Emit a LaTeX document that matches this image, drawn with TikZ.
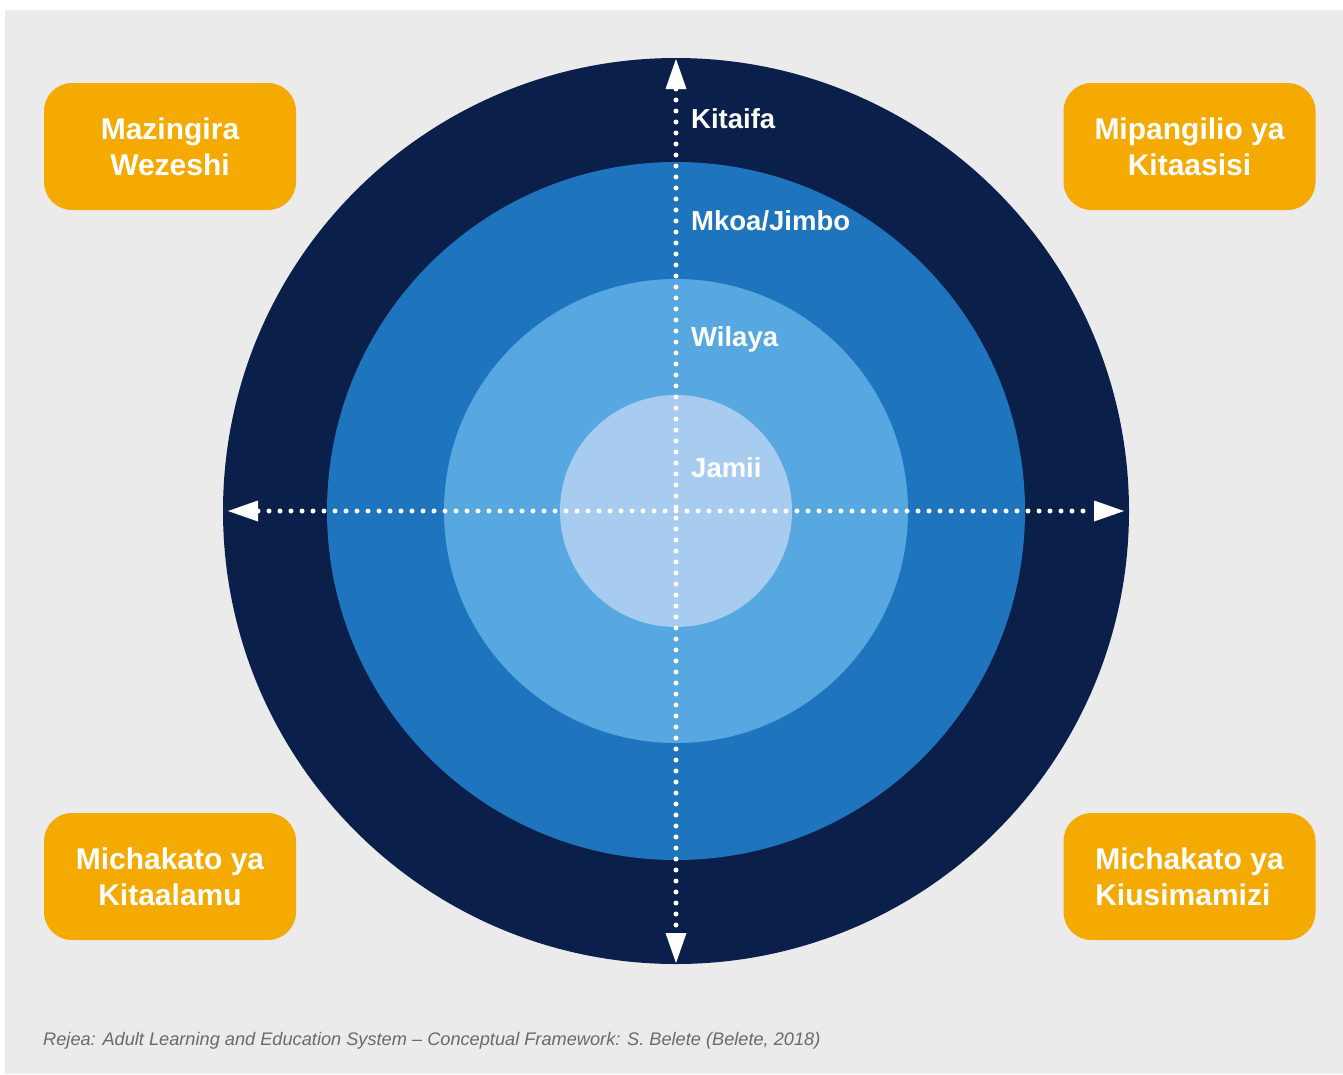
\documentclass[tikz,border=0pt]{standalone}
\usepackage{fontspec}
\setmainfont{Liberation Sans}
\usetikzlibrary{arrows.meta}
\definecolor{bggray}{HTML}{EBEBEB}
\definecolor{navy}{HTML}{0A1F4A}
\definecolor{midblue}{HTML}{1E74BD}
\definecolor{lightblue}{HTML}{57A8E0}
\definecolor{paleblue}{HTML}{A8CCF0}
\definecolor{boxorange}{HTML}{F4AA00}
\definecolor{footgray}{HTML}{6A6A6A}
\begin{document}
\begin{tikzpicture}[x=1pt,y=-1pt,
  cornerbox/.style={rectangle, rounded corners=28pt, fill=boxorange, minimum width=252pt, minimum height=127pt, text=white, font=\fontsize{30}{36}\selectfont\bfseries, inner sep=0pt},
  ringlabel/.style={anchor=west, text=white, inner sep=0pt, font=\fontsize{27.5}{30}\selectfont\bfseries},
  dotline/.style={draw=white, line width=5pt, line cap=round, dash pattern=on 0pt off 11pt, {Triangle[length=30pt,width=21pt,fill=white,line width=0pt]}-{Triangle[length=30pt,width=21pt,fill=white,line width=0pt]}}
]
\useasboundingbox (0,0) rectangle (1343,1074);
\fill[white] (0,0) rectangle (1343,1074);
\fill[bggray] (5,10) rectangle (1343,1074);
% rings
\fill[navy] (676,511) circle (453pt);
\fill[midblue] (676,511) circle (349pt);
\fill[lightblue] (676,511) circle (232pt);
\fill[paleblue] (676,511) circle (116pt);
\coordinate (c) at (676,511);
\coordinate (lft) at (228,511);
\coordinate (rgt) at (1124,511);
\coordinate (top) at (676,59);
\coordinate (bot) at (676,963);
% dotted axes
\draw[dotline] (lft) -- (rgt);
\draw[dotline] (top) -- (bot);
% ring labels
\node[ringlabel] (kitaifa) at (691,119) {Kitaifa};
\node[ringlabel] (mkoa) at (691,221) {Mkoa/Jimbo};
\node[ringlabel] (wilaya) at (691,339) {Wilaya};
\node[ringlabel] (jamii) at (691,468) {Jamii};
% corner boxes
\node[cornerbox, align=center] (tl) at (170,146.5) {Mazingira\\Wezeshi};
\node[cornerbox, align=center] (tr) at (1189.5,146.5) {Mipangilio ya\\Kitaasisi};
\node[cornerbox, align=center] (bl) at (170,876.5) {Michakato ya\\Kitaalamu};
\node[cornerbox, align=left] (br) at (1189.5,876.5) {Michakato ya\\Kiusimamizi};
% footer
\node[anchor=west, inner sep=0pt, text=footgray, font=\fontsize{18.2}{21}\selectfont\itshape] (foot) at (43,1041) {Rejea: Adult Learning and Education System – Conceptual Framework: S. Belete (Belete, 2018)};
\end{tikzpicture}
\end{document}
